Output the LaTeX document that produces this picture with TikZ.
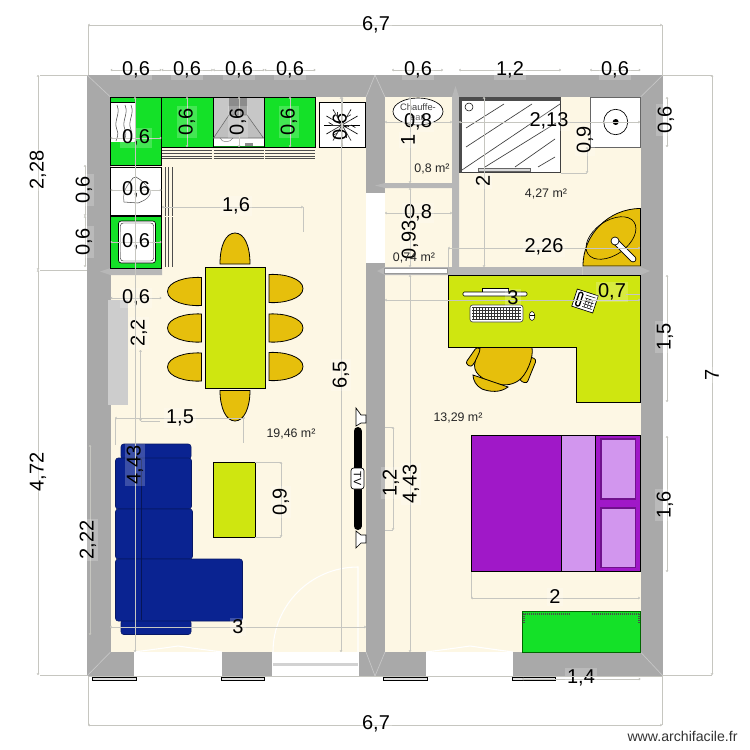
\documentclass[tikz,border=0pt]{standalone}
\usepackage{fontspec}
\usetikzlibrary{calc,arrows.meta}
\setmainfont{Liberation Sans}
\definecolor{wallc}{HTML}{A9A9A9}
\definecolor{wallb}{HTML}{B7B7B7}
\definecolor{floorc}{HTML}{FDF7E4}
\definecolor{greenc}{HTML}{14E128}
\definecolor{limec}{HTML}{CFE610}
\definecolor{yelc}{HTML}{E6BF0C}
\definecolor{bluec}{HTML}{0A2391}
\definecolor{purpc}{HTML}{A018C8}
\definecolor{lilac}{HTML}{D296EE}
\definecolor{dimc}{HTML}{C6C6C0}
\newcounter{dc}
\tikzset{
  dimline/.style={draw=dimc,line width=0.6pt},
  dimtxt/.style={fill=white,fill opacity=.2,text opacity=1,text=black,font=\fontsize{15}{15}\selectfont,inner sep=1.5pt},
  areatxt/.style={text=black!85,font=\fontsize{9.3}{10}\selectfont,inner sep=0pt},
  furn/.style={draw=black,line width=0.6pt},
  chairL/.pic={\path[furn,fill=yelc] (17,-14)..controls (2,-15) and (-17,-10)..(-17,0)..controls (-17,10) and (2,15)..(17,14)--cycle;},
  chairR/.pic={\path[furn,fill=yelc] (-17,-14)..controls (-2,-15) and (17,-10)..(17,0)..controls (17,10) and (-2,15)..(-17,14)--cycle;},
}
% \hd{x1}{x2}{y}{lx}{ly}{text}
\newcommand{\hd}[6]{\stepcounter{dc}\draw[dimline,<->,>={To[length=1.5pt,width=2pt]}] (#1,#3)--(#2,#3);
  \node[dimtxt] (d\thedc) at (#4,#5) {#6};}
\newcommand{\vd}[6]{\stepcounter{dc}\draw[dimline,<->,>={To[length=1.5pt,width=2pt]}] (#1,#2)--(#1,#3);
  \node[dimtxt,rotate=90] (d\thedc) at (#4,#5) {#6};}
\begin{document}
\begin{tikzpicture}[x=0.75pt,y=-0.75pt]
\useasboundingbox (0,0) rectangle (750,750);
% walls and floors
\fill[wallc] (87,75) rectangle (663,676);
\fill[floorc] (110.5,97) rectangle (366,652);
\fill[floorc] (385,97) rectangle (640.5,652);
\foreach \a/\b/\c/\d in {87/75/110.5/97,663/75/640.5/97,87/676/110.5/652,663/676/640.5/652,366/652/375/676,385/652/375/676,366/97/375/75,385/97/375/75}
  \draw[white,opacity=.35,line width=0.5pt] (\a,\b)--(\c,\d);
% openings
\fill[white] (366,193) rectangle (385,263);
\fill[white] (134,652) rectangle (222,676);
\fill[white] (272,652) rectangle (359,676);
\fill[white] (426,652) rectangle (513,676);
\foreach \a/\b in {134/222,426/513}
  \draw[white,line width=0.8pt] (\a,652)--(\a+30,648)--(\a+44,646)--(\a+58,648)--(\b,652);
\fill[gray!35] (273,663) rectangle (358,666);
\foreach \a/\b in {92/136,221/264,383/427,512/555}
  \draw[black,fill=white!88!black,line width=0.5pt] (\a,677) rectangle (\b,680);
% thin walls
\fill[wallb] (100,271.5)--(110.5,268)--(162,268)--(162,275)--(110.5,275)--cycle;
\fill[wallb] (377,271)--(385,267)--(640.5,267)--(650,271)--(640.5,275)--(385,275)--cycle;
\fill[white] (384,268) rectangle (447,273);
\draw[black!40,line width=0.3pt] (384,268) rectangle (447,273);
\fill[wallb] (375,185.5)--(385,183)--(452,183)--(452,188)--(385,188)--cycle;
\fill[wallb] (452,97)--(455.5,86)--(459,97)--(459,267)--(452,267)--cycle;
\fill[wallb!70!white] (108,300) rectangle (128,405);
% kitchen
\draw[furn,fill=greenc] (110.5,97) rectangle (161.5,165);
\fill[white] (110.5,102) rectangle (135,142);
\draw[black,line width=0.3pt] (110.5,102)--(135,102);
\foreach \x in {117,125,131} \draw[black!70,line width=0.4pt] (\x,105)..controls (\x+4,115) and (\x-4,120)..(\x,130)..controls (\x+2,134) and (\x,138)..(\x-1,141);
\draw[furn,fill=greenc] (161.5,97) rectangle (213,147.5);
\draw[furn,fill=greenc] (264.5,97) rectangle (315.5,147.5);
\draw[furn,fill=black!22] (213,97) rectangle (264.5,147.5);
\fill[white] (214,138) rectangle (263.5,146.5);
\fill[greenc!60!black] (214,146) rectangle (263.5,147);
\fill[black!45] (229,97.5) rectangle (247,115);
\draw[black!60,fill=black!25,line width=0.4pt] (213.5,138)--(229,115)--(247,115)--(263.5,138)--cycle;
\fill[black!45] (245,143) rectangle (253,146);
\draw[black!60,line width=0.3pt] (220,138)..controls (222,143) and (230,143)..(233,138);
\draw[furn,fill=white] (319,102) rectangle (365,147.5);
\foreach \a in {0,30,...,330} \draw[black,line width=0.5pt] (342,125)--++(\a:18);
\foreach \a in {0,60,...,300} \draw[black,line width=0.5pt] ($(342,125)+(\a:9)$)--++(\a+30:5);
\draw[furn,fill=white] (110.5,167) rectangle (161.5,215.5);
\draw[black!70,line width=0.4pt] (124,202)..controls (122,190) and (128,185)..(133,178)..controls (134,177) and (135,177)..(136,177)..controls (142,180) and (146,185)..(150,190)..controls (152,196) and (146,200)..(138,203)--cycle;
\draw[furn,fill=greenc] (110.5,216.5) rectangle (161.5,268);
\draw[black,fill=white,rounded corners=2pt,line width=0.5pt] (118.5,221) rectangle (155.5,263);
\draw[black,rounded corners=2pt,line width=0.3pt] (120.5,223) rectangle (153.5,261);
\foreach \y in {150,153,156,158.5} \foreach \a/\b in {162/212,213.5/263.5,265/315} \draw[black!70,line width=0.6pt] (\a,\y)--(\b,\y);
\foreach \x in {165,168.5,172} \foreach \a/\b in {167/215.5,217/267} \draw[black!70,line width=0.6pt] (\x,\a)--(\x,\b);
% dining
\path[furn,fill=yelc] (220,264)..controls (220,245) and (226,233)..(235,233)..controls (244,233) and (250,245)..(250,264)--cycle;
\path[furn,fill=yelc] (220,390.5)..controls (220,408) and (226,421)..(235,421)..controls (244,421) and (250,408)..(250,390.5)--cycle;
\foreach \y in {291.5,328,367} \pic at (184.5,\y) {chairL};
\foreach \y in {288.5,328,366.5} \pic at (286,\y) {chairR};
\draw[furn,fill=limec] (205,267) rectangle (265.5,388);
% sofa
\draw[bluec!70!black,fill=bluec,rounded corners=2pt,line width=0.4pt] (121,444) rectangle (191,459);
\draw[bluec!70!black,fill=bluec,rounded corners=2pt,line width=0.4pt] (121,620) rectangle (191,634.5);
\draw[bluec!70!black,fill=bluec,rounded corners=2pt,line width=0.4pt] (115.5,458) rectangle (191.5,509);
\draw[bluec!70!black,fill=bluec,rounded corners=2pt,line width=0.4pt] (115.5,509) rectangle (192.5,559);
\draw[bluec!70!black,fill=bluec,rounded corners=2pt,line width=0.4pt] (115.5,559) rectangle (242.5,621);
\draw[bluec!60!black,line width=0.8pt] (141.7,459)--(141.7,620);
\draw[furn,fill=limec] (213.3,462) rectangle (255.3,537.7);
% TV
\draw[black,line width=6pt,line cap=round] (357.5,431)--(357.5,526);
\draw[black,fill=white,rounded corners=2pt,line width=0.5pt] (351,468) rectangle (364,489);
\node[rotate=-90,font=\fontsize{8}{8}\selectfont,inner sep=0pt] (tvl) at (357.5,478.5) {TV};
\draw[black,fill=white,line width=0.5pt] (356,408)--(361,415)--(366,415)--(366,423)--(361,423)--(356,426)--cycle;
\draw[black,fill=white,line width=0.5pt] (356,531)--(361,535)--(366,535)--(366,543)--(361,543)--(356,548)--cycle;
% door swing
\draw[white,line width=0.8pt] (273,652) arc[start angle=180,end angle=270,radius=85] -- (358,652);
% water heater room
\draw[black,fill=white,line width=0.5pt] (418,111.5) ellipse [x radius=25,y radius=13.5];
\node[font=\fontsize{7}{7}\selectfont,align=center,inner sep=0pt,text=black!75] (ce) at (418,112) {Chauffe-\\eau};
% shower
\draw[black!75,fill=white,line width=1.2pt] (459.7,98) rectangle (560.5,172.5);
\fill[black!70] (459,97) rectangle (462,173);
\fill[black!70] (459,97) rectangle (561,100.5);
\draw[black,line width=0.4pt] (469,107) circle (4);
\foreach \a/\b/\c/\d in {466/128/504/104,466/147/532/104,462/170/560/104,485/167/556/123,515/167/555/139,538/167/555/157}
  \draw[black!75,line width=0.5pt] (\a,\b)--(\c,\d);
\draw[black!60,fill=white!85!black,line width=0.4pt] (478,168) rectangle (530,171);
% basin
\draw[black!60,fill=white,line width=0.5pt] (590,97) rectangle (640.5,147);
\draw[black,line width=0.5pt] (615.7,122) ellipse [x radius=12,y radius=12.7];
\fill[black] (615.7,122) circle (3);
% corner sink
\draw[furn,fill=yelc] (583,266) arc[start angle=180,end angle=270,radius=57.5] -- (640.5,266) -- cycle;
\draw[black,line width=0.5pt,rotate around={35:(611,238)}] (611,238) ellipse[x radius=28,y radius=17];
\draw[black,line width=5pt,line cap=round] (616,242)--(633,259);
\draw[white,line width=3.6pt,line cap=round] (616,242)--(633,259);
\draw[black,fill=white,line width=0.5pt] (615,241) circle (4);
% desk
\draw[furn,fill=limec] (448,275)--(640.5,275)--(640.5,402)--(576,402)--(576,347.5)--(448,347.5)--cycle;
\draw[black,fill=white,line width=0.4pt] (482,288) rectangle (508,292);
\draw[black,fill=white,line width=0.4pt,rounded corners=1pt] (463,292) rectangle (527,296);
\draw[black!70,fill=white,rounded corners=2pt,line width=0.5pt] (470,305) rectangle (523,322);
\foreach \x in {473,476,...,520} \draw[black!80,line width=0.3pt] (\x,307)--(\x,320);
\foreach \y in {307,310,313,316,319} \draw[black!80,line width=0.3pt] (472,\y)--(521,\y);
\draw[black,fill=white,line width=0.4pt] (532,316) ellipse[x radius=2.8,y radius=4.5];
\draw[black,line width=0.3pt] (529.5,315)--(534.5,315);
\begin{scope}[shift={(585,301)},rotate=-18]
\draw[black,fill=white,line width=0.5pt] (-11,-9) rectangle (11,9);
\draw[black,line width=1pt,rounded corners=1pt] (-8,-7) rectangle (-4,7);
\foreach \y in {-6,-3,0,3,6} \draw[black,line width=0.4pt] (-1,\y)--(9,\y);
\foreach \x in {1,4,7} \draw[black,line width=0.3pt] (\x,-3)--(\x,6);
\end{scope}
% desk chair
\draw[furn,fill=yelc,rounded corners=2pt,rotate around={-35:(474,357)}] (470.5,347) rectangle (477.5,367);
\draw[furn,fill=yelc,rounded corners=2pt,rotate around={-22:(528,370)}] (524,357) rectangle (532,383);
\draw[furn,fill=yelc] (480,347.5)--(532,347.5)..controls (534,358) and (526,376)..(518,381)..controls (510,386) and (503,385)..(498,384)..controls (488,382) and (474,376)..(474.5,365)..controls (475,358) and (480,355)..(480,347.5)--cycle;
\draw[furn,fill=yelc] (473,375)--(508,387)..controls (500,393) and (490,392)..(482,389)..controls (476,386) and (473,380)..(473,375)--cycle;
% bed
\draw[furn,fill=purpc] (471,435.7) rectangle (561.7,571.7);
\draw[furn,fill=lilac] (561.7,435.7) rectangle (595.7,571.7);
\draw[furn,fill=purpc] (595.7,435.7) rectangle (640.5,571.7);
\draw[purpc!70!black,fill=lilac,line width=0.8pt] (601,439) rectangle (635.7,499);
\draw[purpc!70!black,fill=lilac,line width=0.8pt] (601,508) rectangle (635.7,567.7);
% green unit
\draw[black!60!green,fill=greenc,line width=0.6pt] (522,611.7) rectangle (640.5,652.5);
\draw[black!70,dash pattern=on 1pt off 0.5pt,line width=1.5pt] (523,613.5)--(570,613.5) (592,613.5)--(639,613.5) (524,614)--(524,624) (638.5,614)--(638.5,624);
% dimensions
\hd{88}{662}{25}{376}{25}{6,7}
\hd{88}{662}{725}{376}{724}{6,7}
\foreach \x in {88,662} \draw[dimc,line width=0.5pt] (\x,25)--(\x,75) (\x,676)--(\x,725);
\hd{110.5}{161.5}{70}{136}{70}{0,6}
\hd{161.5}{213}{70}{187}{70}{0,6}
\hd{213}{264.5}{70}{239}{70}{0,6}
\hd{264.5}{315.5}{70}{290}{70}{0,6}
\hd{392}{443}{70}{418}{70}{0,6}
\hd{459}{561}{70}{510}{70}{1,2}
\hd{590}{640.5}{70}{615}{70}{0,6}
\hd{522}{640.5}{679}{581}{678}{1,4}
\draw[dimc,line width=0.5pt] (88,676)--(662,676) (40,75)--(87,75) (40,270)--(87,270) (40,675)--(87,675) (662,75)--(712,75) (662,675)--(712,675);
\vd{38}{75}{270}{38}{170}{2,28}
\vd{38}{270}{675}{38}{472}{4,72}
\vd{85}{165}{216}{84}{190}{0,6}
\vd{85}{216}{267}{84}{242}{0,6}
\vd{90}{445}{635}{88}{540}{2,22}
\vd{712}{75}{675}{712}{375}{7}
\vd{667}{97}{147}{666}{120}{0,6}
\vd{667}{275}{402}{665}{337}{1,5}
\vd{667}{436}{572}{665}{505}{1,6}
\hd{110.5}{161.5}{138}{136}{138}{0,6}
\hd{110.5}{161.5}{190}{136}{190}{0,6}
\hd{110.5}{161.5}{242}{136}{242}{0,6}
\hd{110.5}{161.5}{298}{136}{298}{0,6}
\vd{187}{97}{147}{187}{122}{0,6}
\vd{239}{97}{147}{238}{122}{0,6}
\vd{290}{97}{147}{289}{122}{0,6}
\vd{342}{97}{147}{341}{127}{0,6}
\hd{162}{303}{207}{236}{206}{1,6}
\draw[dimc,line width=0.5pt] (303,207)--(303,232);
\vd{140.5}{350}{421}{139}{333}{2,2}
\hd{115}{245}{418}{180}{418}{1,5}
\draw[dimc,line width=0.5pt] (115,418)--(115,445) (243,418)--(243,443) (140.5,421)--(160,421);
\vd{135}{97}{652}{135}{465}{4,43}
\vd{281}{462}{537}{281}{502}{0,9}
\draw[dimc,line width=0.5pt] (255,462)--(281,462) (255,537)--(281,537);
\vd{341}{97}{652}{341}{375}{6,5}
\hd{110}{366}{627}{238}{627}{3}
\vd{393}{427}{530}{391}{483}{1,2}
\vd{410}{275}{652}{411}{484}{4,43}
\draw[dimc,line width=0.5pt] (385,427)--(393,427) (385,530)--(393,530);
\hd{385}{452}{122}{418}{122}{0,8}
\hd{385}{452}{213}{418}{213}{0,8}
\vd{410}{97}{183}{408}{140}{1}
\vd{410}{188}{267}{410}{240}{0,93}
\hd{459}{640}{122}{549}{121}{2,13}
\vd{587}{147}{173}{585}{140}{0,9}
\draw[dimc,line width=0.5pt] (561,173)--(587,173);
\vd{484}{97}{267}{483}{181}{2}
\hd{448}{640}{248}{544}{247}{2,26}
\draw[dimc,line width=0.5pt] (448,248)--(448,267);
\hd{385}{640}{300}{513}{298}{3}
\draw[dimc,line width=0.5pt] (582,266)--(582,275);
\node[dimtxt] (d07) at (612,292) {0,7};
\draw[dimc,line width=0.5pt] (626,294)--(640,294);
\hd{471}{640}{598}{555}{597}{2}
\draw[dimc,line width=0.5pt] (471,572)--(471,598);
% areas
\node[areatxt] (a1) at (291,434) {19,46 m²};
\node[areatxt] (a2) at (458,418) {13,29 m²};
\node[areatxt] (a3) at (432,169) {0,8 m²};
\node[areatxt] (a4) at (414,258) {0,74 m²};
\node[areatxt] (a5) at (546,194) {4,27 m²};
\node[text=black!80,font=\fontsize{10.6}{11}\selectfont,inner sep=0pt] (wm) at (682.5,736) {www.archifacile.fr};
\end{tikzpicture}
\end{document}
